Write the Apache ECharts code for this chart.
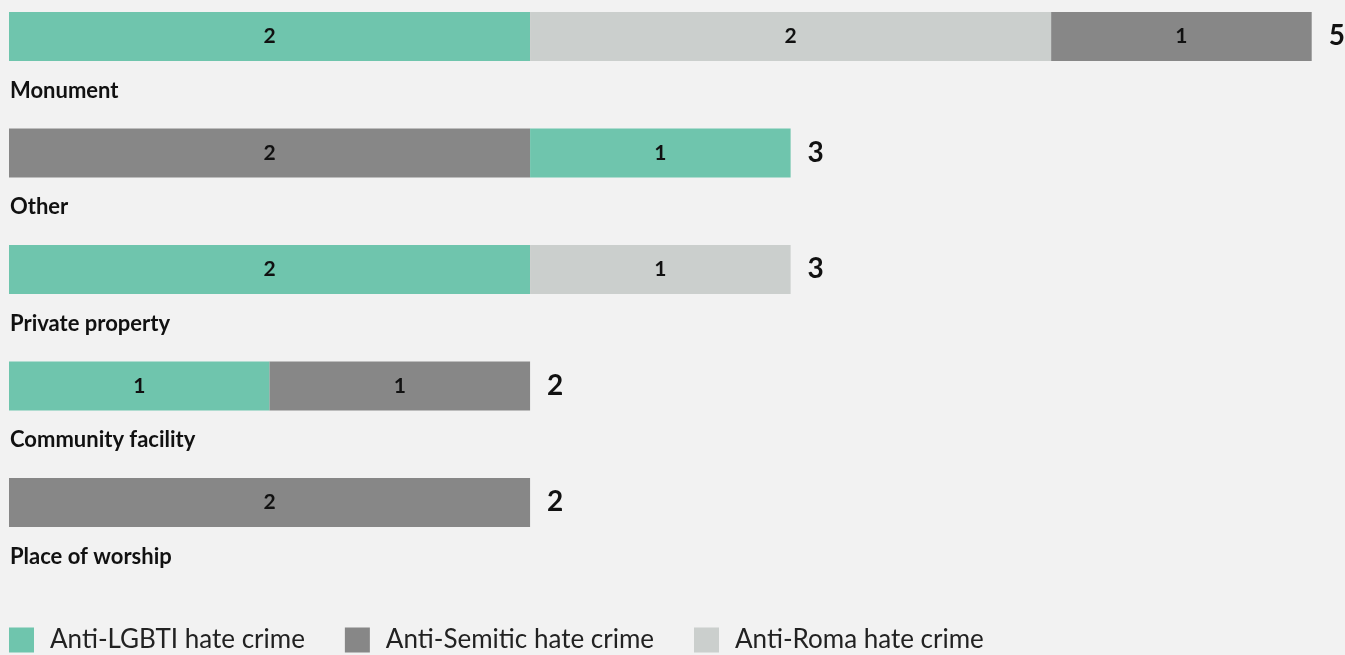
<!DOCTYPE html>
<html>
<head>
<meta charset="utf-8">
<script src="https://cdn.jsdelivr.net/npm/echarts@6/dist/echarts.min.js"></script>
<style>
html,body{margin:0;padding:0;background:#f2f2f2;}
#chart{width:1345px;height:655px;}
</style>
</head>
<body>
<div id="chart"></div>
<script>
// Categories (top to bottom)
var categories = ['Monument', 'Other', 'Private property', 'Community facility', 'Place of worship'];
// Segment values per category, in the order they appear in each bar
var semiticFirst = [null, 2, null, null, 2];   // anti-Semitic segment drawn first (left)
var lgbti        = [2, 1, 2, 1, null];
var roma         = [2, null, 1, null, null];
var semiticLast  = [1, null, null, 1, null];   // anti-Semitic segment drawn last (right)
var legendNames = ['Anti-LGBTI hate crime', 'Anti-Semitic hate crime', 'Anti-Roma hate crime'];

var totals = categories.map(function (c, i) {
  return [semiticFirst, lgbti, roma, semiticLast].reduce(function (s, a) { return s + (a[i] || 0); }, 0);
});

var FONT = 'Lato, "Noto Sans", sans-serif';
var C_LGBTI = '#6fc5ad', C_SEM = '#878787', C_ROMA = '#cbcfcd';

function seg(name, data, color) {
  return {
    name: name, type: 'bar', stack: 'all', data: data, barWidth: 49,
    itemStyle: { color: color },
    label: { show: true, position: 'inside', color: '#111', fontFamily: FONT, fontWeight: 'bold', fontSize: 21,
      formatter: function (p) { return p.value == null ? '' : String(p.value); } },
    emphasis: { disabled: true }
  };
}

var chart = echarts.init(document.getElementById('chart'), null, { renderer: 'canvas' });
chart.setOption({
  backgroundColor: '#f2f2f2',
  animation: false,
  grid: { left: 9, right: 33.3, top: -21.8, height: 582.5, containLabel: false, outerBoundsMode: 'none' },
  xAxis: { type: 'value', min: 0, max: 5, show: false },
  yAxis: {
    type: 'category', data: categories, inverse: true,
    axisLine: { show: false }, axisTick: { show: false },
    axisLabel: {
      inside: true, margin: 1, align: 'left', verticalAlign: 'top',
      padding: [43, 0, 0, 0], lineHeight: 22,
      fontFamily: FONT, fontWeight: 'bold', fontSize: 22, color: '#111'
    }
  },
  legend: {
    data: legendNames, left: 9, top: 627, padding: 0, icon: 'rect', itemWidth: 25, itemHeight: 25, itemGap: 40,
    textStyle: { fontFamily: FONT, fontSize: 26, color: '#222', padding: [0, 0, 0, 11] },
    selectedMode: false
  },
  series: [
    seg('Anti-Semitic hate crime', semiticFirst, C_SEM),
    seg('Anti-LGBTI hate crime', lgbti, C_LGBTI),
    seg('Anti-Roma hate crime', roma, C_ROMA),
    seg('Anti-Semitic hate crime', semiticLast, C_SEM),
    {
      name: 'total', type: 'bar', stack: 'all', data: totals.map(function () { return 0; }), barWidth: 49,
      itemStyle: { color: 'transparent' },
      label: { show: true, position: 'right', distance: 17, color: '#111', fontFamily: FONT, fontWeight: 'bold', fontSize: 28,
        formatter: function (p) { return String(totals[p.dataIndex]); } },
      emphasis: { disabled: true }
    }
  ]
});
</script>
</body>
</html>
